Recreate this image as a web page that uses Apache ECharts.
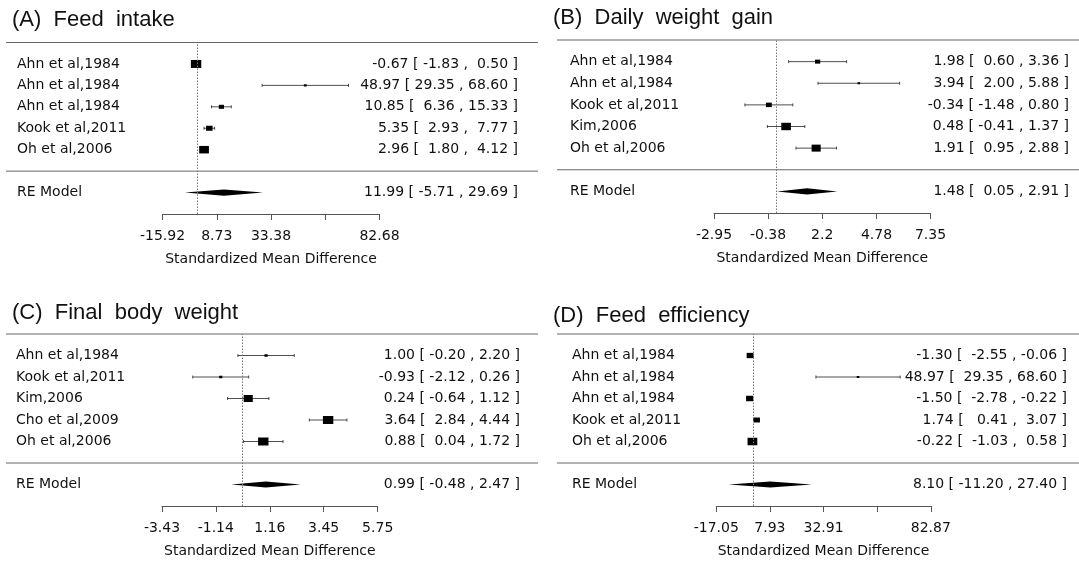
<!DOCTYPE html>
<html><head><meta charset="utf-8">
<script src="https://cdn.jsdelivr.net/npm/echarts@6/dist/echarts.min.js"></script>
<style>html,body{margin:0;padding:0;background:#fff}#c{width:1079px;height:565px}</style>
</head><body><div id="c"></div>
<script>
// ---------------- DATA ----------------
const titleA = '(A)  Feed  intake';
const studiesA = ['Ahn et al,1984','Ahn et al,1984','Ahn et al,1984','Kook et al,2011','Oh et al,2006'];
const estA   = [-0.67, 48.97, 10.85, 5.35, 2.96];
const lowerA = [-1.83, 29.35, 6.36, 2.93, 1.80];
const upperA = [0.50, 68.60, 15.33, 7.77, 4.12];
const weightsA = [26.6, 2.0, 6.7, 10.4, 23.4];
const reA = [11.99, -5.71, 29.69];
const tickValuesA = [-15.92, 8.73, 33.38, 58.03, 82.68];
const tickLabelsA = ['-15.92', '8.73', '33.38', '', '82.68'];

const titleB = '(B)  Daily  weight  gain';
const studiesB = ['Ahn et al,1984','Ahn et al,1984','Kook et al,2011','Kim,2006','Oh et al,2006'];
const estB   = [1.98, 3.94, -0.34, 0.48, 1.91];
const lowerB = [0.60, 2.00, -1.48, -0.41, 0.95];
const upperB = [3.36, 5.88, 0.80, 1.37, 2.88];
const weightsB = [6.7, 1.7, 8.4, 22.8, 20.4];
const reB = [1.48, 0.05, 2.91];
const tickValuesB = [-2.95, -0.38, 2.2, 4.78, 7.35];
const tickLabelsB = ['-2.95', '-0.38', '2.2', '4.78', '7.35'];

const titleC = '(C)  Final  body  weight';
const studiesC = ['Ahn et al,1984','Kook et al,2011','Kim,2006','Cho et al,2009','Oh et al,2006'];
const estC   = [1.00, -0.93, 0.24, 3.64, 0.88];
const lowerC = [-0.20, -2.12, -0.64, 2.84, 0.04];
const upperC = [2.20, 0.26, 1.12, 4.44, 1.72];
const weightsC = [2.6, 2.6, 20.4, 26.6, 26.6];
const reC = [0.99, -0.48, 2.47];
const tickValuesC = [-3.43, -1.14, 1.16, 3.45, 5.75];
const tickLabelsC = ['-3.43', '-1.14', '1.16', '3.45', '5.75'];

const titleD = '(D)  Feed  efficiency';
const studiesD = ['Ahn et al,1984','Ahn et al,1984','Ahn et al,1984','Kook et al,2011','Oh et al,2006'];
const estD   = [-1.30, 48.97, -1.50, 1.74, -0.22];
const lowerD = [-2.55, 29.35, -2.78, 0.41, -1.03];
const upperD = [-0.06, 68.60, -0.22, 3.07, 0.58];
const weightsD = [11.7, 1.7, 12.6, 10.4, 23.4];
const reD = [8.10, -11.20, 27.40];
const tickValuesD = [-17.05, 7.93, 32.91, 57.89, 82.87];
const tickLabelsD = ['-17.05', '7.93', '32.91', '', '82.87'];

const xAxisName = 'Standardized Mean Difference';
const reLabel = 'RE Model';

// ---------------- LAYOUT ----------------
const FONT = 'DejaVu Sans';
const TXT = '#111';
const LINEC = '#555';
const panels = [
  {title:titleA, studies:studiesA, est:estA, lower:lowerA, upper:upperA, w:weightsA, re:reA, tv:tickValuesA, tl:tickLabelsA,
   L:162.5, R:379.5, T:42.5, B:214, labelX:17, textR:518, lineL:6, lineR:538, tX:7, tY:4},
  {title:titleB, studies:studiesB, est:estB, lower:lowerB, upper:upperB, w:weightsB, re:reB, tv:tickValuesB, tl:tickLabelsB,
   L:714, R:930.5, T:40, B:213, labelX:570, textR:1069, lineL:557, lineR:1079, tX:548, tY:2},
  {title:titleC, studies:studiesC, est:estC, lower:lowerC, upper:upperC, w:weightsC, re:reC, tv:tickValuesC, tl:tickLabelsC,
   L:162, R:377.7, T:334, B:506, labelX:16, textR:520, lineL:6, lineR:538, tX:7, tY:297},
  {title:titleD, studies:studiesD, est:estD, lower:lowerD, upper:upperD, w:weightsD, re:reD, tv:tickValuesD, tl:tickLabelsD,
   L:716.3, R:930.8, T:334, B:506, labelX:572, textR:1067, lineL:557, lineR:1079, tX:548, tY:300}
];

const BOX_SCALE = 1.55, BOX_ASPECT = 1.3, CAP = 1.5, DIAM_H = 3.1;

function ciTexts(p) {
  const los = p.lower.concat([p.re[1]]).map(v => v.toFixed(2));
  const his = p.upper.concat([p.re[2]]).map(v => v.toFixed(2));
  const wl = Math.max(...los.map(s => s.length));
  const wh = Math.max(...his.map(s => s.length));
  const ests = p.est.concat([p.re[0]]).map(v => v.toFixed(2));
  return ests.map((e, i) => e + ' [ ' + los[i].padStart(wl, ' ') + ' , ' + his[i].padStart(wh, ' ') + ' ]');
}

const grids = [], xAxes = [], yAxes = [], series = [], titles = [];
panels.forEach((p, gi) => {
  const k = p.studies.length;
  const texts = ciTexts(p);
  grids.push({left: p.L, top: p.T, width: p.R - p.L, height: p.B - p.T, containLabel: false});
  titles.push({text: p.title, left: p.tX, top: p.tY,
    textStyle: {fontFamily: 'Liberation Sans', fontSize: 22, fontWeight: 'normal', color: '#111'}});
  const labelVals = p.tv.filter((v, i) => p.tl[i] !== '');
  xAxes.push({
    type: 'value', gridIndex: gi, min: p.tv[0], max: p.tv[p.tv.length - 1],
    position: 'bottom',
    name: xAxisName, nameLocation: 'middle', nameGap: 38,
    nameTextStyle: {fontFamily: FONT, fontSize: 14, color: TXT},
    axisLine: {show: true, onZero: false, lineStyle: {color: LINEC, width: 1}},
    axisTick: {show: true, length: 6, inside: false, customValues: p.tv, lineStyle: {color: LINEC, width: 1}},
    axisLabel: {show: true, margin: 15, customValues: labelVals, fontFamily: FONT, fontSize: 14, color: TXT,
      formatter: v => { let bi = 0; p.tv.forEach((t, i) => { if (Math.abs(t - v) < Math.abs(p.tv[bi] - v)) bi = i; }); return p.tl[bi]; }},
    splitLine: {show: false}
  });
  const rowLabel = v => { const r = Math.round(v); if (r >= 1 && r <= k) return p.studies[k - r]; if (r === -1) return reLabel; return ''; };
  const rowText = v => { const r = Math.round(v); if (r >= 1 && r <= k) return texts[k - r]; if (r === -1) return texts[k]; return ''; };
  yAxes.push({
    type: 'value', gridIndex: gi, min: -2, max: k + 1, interval: 1, position: 'left',
    axisLine: {show: false}, axisTick: {show: false}, splitLine: {show: false},
    axisLabel: {show: true, align: 'left', margin: p.L - p.labelX, fontFamily: FONT, fontSize: 14, color: TXT, formatter: rowLabel}
  });
  yAxes.push({
    type: 'value', gridIndex: gi, min: -2, max: k + 1, interval: 1, position: 'right',
    axisLine: {show: false}, axisTick: {show: false}, splitLine: {show: false},
    axisLabel: {show: true, align: 'right', margin: p.textR - p.R, fontFamily: FONT, fontSize: 14, color: TXT, formatter: rowText}
  });
  const studyData = p.est.map((e, i) => [e, k - i, p.lower[i], p.upper[i], p.w[i]]);
  series.push({
    type: 'custom', xAxisIndex: gi, yAxisIndex: gi * 2, clip: false, silent: true, z: 3,
    data: studyData,
    renderItem: (params, api) => {
      const c = api.coord([api.value(0), api.value(1)]);
      const xl = api.coord([api.value(2), api.value(1)])[0];
      const xh = api.coord([api.value(3), api.value(1)])[0];
      const y = c[1];
      const h = BOX_SCALE * Math.sqrt(api.value(4));
      const w = h * BOX_ASPECT;
      const ls = {stroke: '#222', lineWidth: 0.8};
      return {type: 'group', children: [
        {type: 'line', shape: {x1: xl, y1: y, x2: xh, y2: y}, style: ls},
        {type: 'line', shape: {x1: xl, y1: y - CAP, x2: xl, y2: y + CAP}, style: ls},
        {type: 'line', shape: {x1: xh, y1: y - CAP, x2: xh, y2: y + CAP}, style: ls},
        {type: 'rect', shape: {x: c[0] - w / 2, y: y - h / 2, width: w, height: h}, style: {fill: '#000'}}
      ]};
    },
    markLine: {silent: true, symbol: ['none', 'none'], label: {show: false},
      lineStyle: {type: [1.5, 1.5], color: '#777', width: 1}, data: [{xAxis: 0}]}
  });
  series.push({
    type: 'custom', xAxisIndex: gi, yAxisIndex: gi * 2, clip: false, silent: true, z: 3,
    data: [[p.re[0], -1, p.re[1], p.re[2]]],
    renderItem: (params, api) => {
      const c = api.coord([api.value(0), api.value(1)]);
      const xl = api.coord([api.value(2), api.value(1)])[0];
      const xh = api.coord([api.value(3), api.value(1)])[0];
      const y = c[1];
      return {type: 'polygon', shape: {points: [[xl, y], [c[0], y - DIAM_H], [xh, y], [c[0], y + DIAM_H]]}, style: {fill: '#000'}};
    }
  });
  series.push({
    type: 'custom', xAxisIndex: gi, yAxisIndex: gi * 2, clip: false, silent: true, z: 2,
    data: [[0, 0], [0, k + 1]],
    renderItem: (params, api) => {
      const y = api.coord([api.value(0), api.value(1)])[1];
      return {type: 'line', shape: {x1: p.lineL, y1: y, x2: p.lineR, y2: y}, style: {stroke: '#666', lineWidth: 1}};
    }
  });
});

const chart = echarts.init(document.getElementById('c'), null, {renderer: 'canvas'});
chart.setOption({
  backgroundColor: '#fff',
  animation: false,
  title: titles,
  grid: grids,
  xAxis: xAxes,
  yAxis: yAxes,
  series: series
});
</script></body></html>
